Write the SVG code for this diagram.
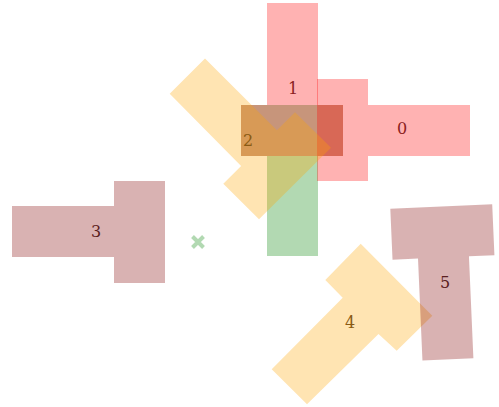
<svg xmlns="http://www.w3.org/2000/svg" width="499" height="407" viewBox="0 0 499 407">
<style>
.red{fill:#ff0000;fill-opacity:0.3}
.orange{fill:#ffa500;fill-opacity:0.3}
.green{fill:#008000;fill-opacity:0.3}
.maroon{fill:#800000;fill-opacity:0.3}
.bar{fill:#c7957b}
text{font-family:"DejaVu Serif","Liberation Serif",serif;font-size:16px;text-anchor:middle}
.tr{fill:#8a2020}
.to{fill:#8a5a14}
.tm{fill:#5a2020}
</style>
<rect width="499" height="407" fill="#ffffff"/>
<g id="node-1-bar"><rect class="bar" x="241" y="105" width="102" height="51"/></g>
<g id="green-block"><rect class="green" x="267" y="156" width="51" height="100"/></g>
<g id="node-1"><rect class="red" x="267" y="3" width="51" height="102"/></g>
<g id="node-0"><polygon class="red" points="317,79 368,79 368,105 470,105 470,156 368,156 368,181 317,181"/></g>
<g id="node-2"><polygon class="orange" points="205,58.5 276.9,130.2 295,112.3 331,147.7 259,219.3 223.3,183.7 241.1,165.9 169.7,93.7"/></g>
<g id="node-3"><polygon class="maroon" points="12,206 114,206 114,181 165,181 165,283 114,283 114,257 12,257"/></g>
<g id="node-4"><polygon class="orange" points="360.7,243.7 432.3,315.7 396.7,350.7 378.5,334 307,404.3 271.7,369.3 342.7,297.7 325.3,280"/></g>
<g id="node-5"><polygon class="maroon" transform="translate(390.3,208.7) rotate(-2.5)" points="0,0 102,0 102,51 76.5,51 76.5,153 25.5,153 25.5,51 0,51"/></g>
<g id="marker"><path d="M192.5,236.5 L203.5,247.5 M203.5,236.5 L192.5,247.5" stroke="#008000" stroke-opacity="0.3" stroke-width="4" fill="none"/></g>
<g id="labels">
<text class="tr" x="402" y="134">0</text>
<text class="tr" x="293" y="94">1</text>
<text class="to" x="248" y="146">2</text>
<text class="tm" x="96" y="237">3</text>
<text class="to" x="350" y="328">4</text>
<text class="tm" x="445" y="288">5</text>
</g>
</svg>
